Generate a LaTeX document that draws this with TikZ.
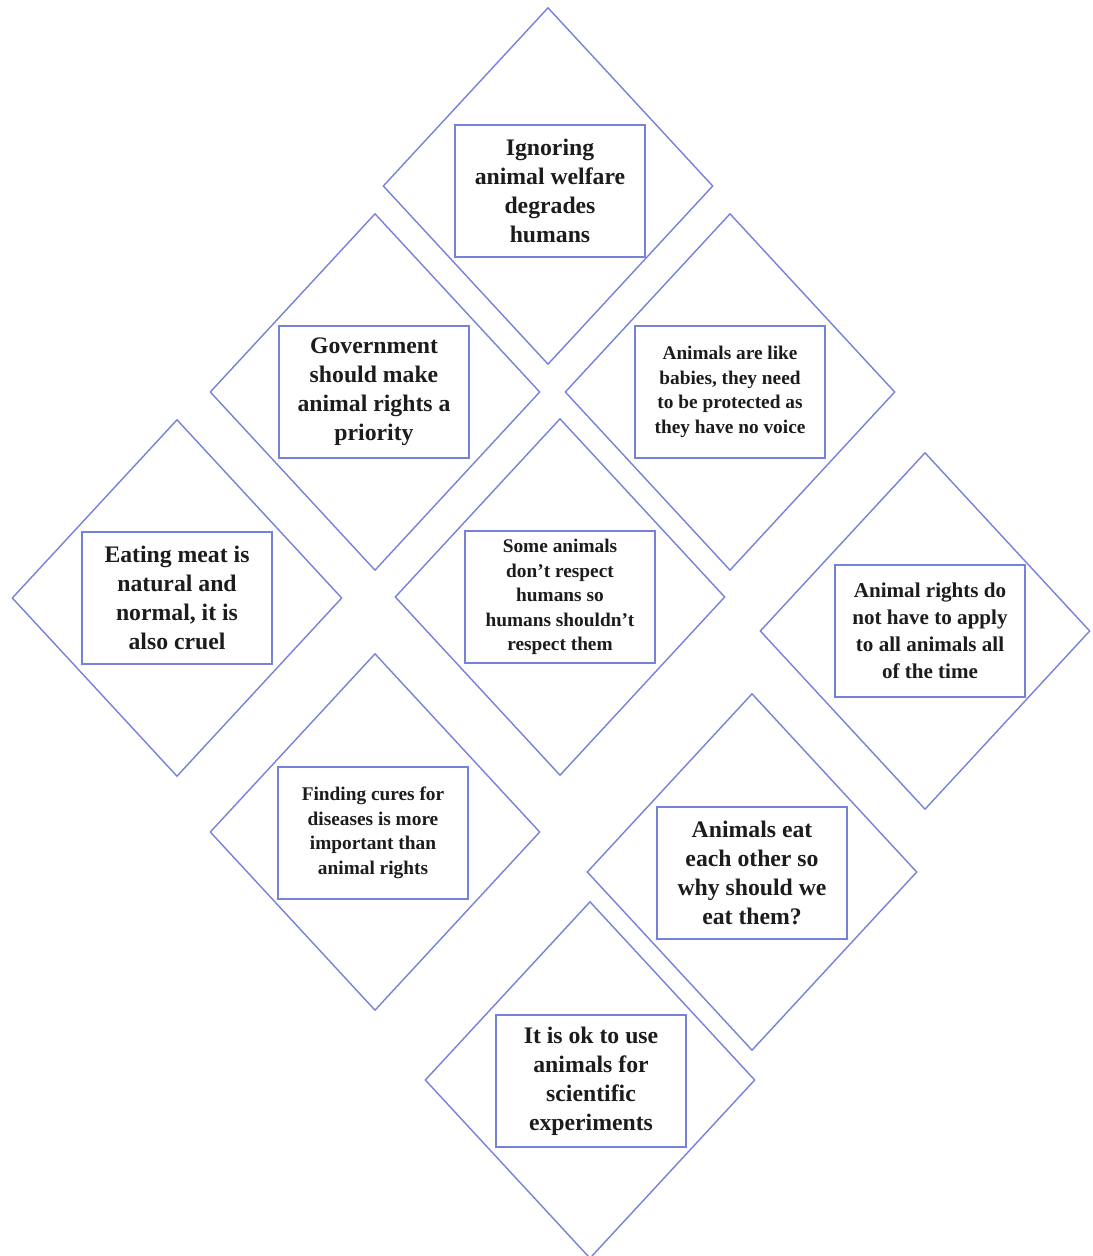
\documentclass[tikz,border=0pt]{standalone}
\usepackage{fontspec}
\setmainfont{Liberation Serif}
\usetikzlibrary{shapes.geometric}
\definecolor{cardblue}{RGB}{118,130,218}
\definecolor{inkgrey}{RGB}{28,28,28}

\begin{document}
\begin{tikzpicture}[
  x=0.02cm, y=-0.02cm,
  card/.style={draw=cardblue,line width=0.8pt,diamond,minimum width=6.6cm,minimum height=7.14cm,inner sep=0pt},
  claim/.style={draw=cardblue,line width=1pt,rectangle,minimum width=3.8cm,minimum height=2.64cm,
    inner sep=2pt,align=center,text=inkgrey,font=\bfseries\fontsize{13.5}{16.5}\selectfont},
  small claim/.style={claim,font=\bfseries\fontsize{11}{14}\selectfont},
  mid claim/.style={claim,font=\bfseries\fontsize{12}{15.3}\selectfont}
]
  \useasboundingbox (0,0) rectangle (1092,1256);

  % diamond cards
  \node[card] (welfareD) at (548,186) {};
  \node[card] (govtD)    at (375,392) {};
  \node[card] (babiesD)  at (730,392) {};
  \node[card] (meatD)    at (177,598) {};
  \node[card] (respectD) at (560,597) {};
  \node[card] (applyD)   at (925,631) {};
  \node[card] (curesD)   at (375,832) {};
  \node[card] (eatD)     at (752,872) {};
  \node[card] (scienceD) at (590,1080) {};

  % statements
  \node[claim] (welfare) at (550,191) {Ignoring\\animal welfare\\degrades\\humans};
  \node[claim] (govt) at (374,392) {Government\\should make\\animal rights a\\priority};
  \node[small claim] (babies) at (730,392) {Animals are like\\babies, they need\\to be protected as\\they have no voice};
  \node[claim] (meat) at (177,598) {Eating meat is\\natural and\\normal, it is\\also cruel};
  \node[small claim] (respect) at (560,597) {Some animals\\don’t respect\\humans so\\humans shouldn’t\\respect them};
  \node[mid claim] (apply) at (930,631) {Animal rights do\\not have to apply\\to all animals all\\of the time};
  \node[small claim] (cures) at (373,833) {Finding cures for\\diseases is more\\important than\\animal rights};
  \node[claim] (eat) at (752,873) {Animals eat\\each other so\\why should we\\eat them?};
  \node[claim] (science) at (591,1081) {It is ok to use\\animals for\\scientific\\experiments};
\end{tikzpicture}
\end{document}
